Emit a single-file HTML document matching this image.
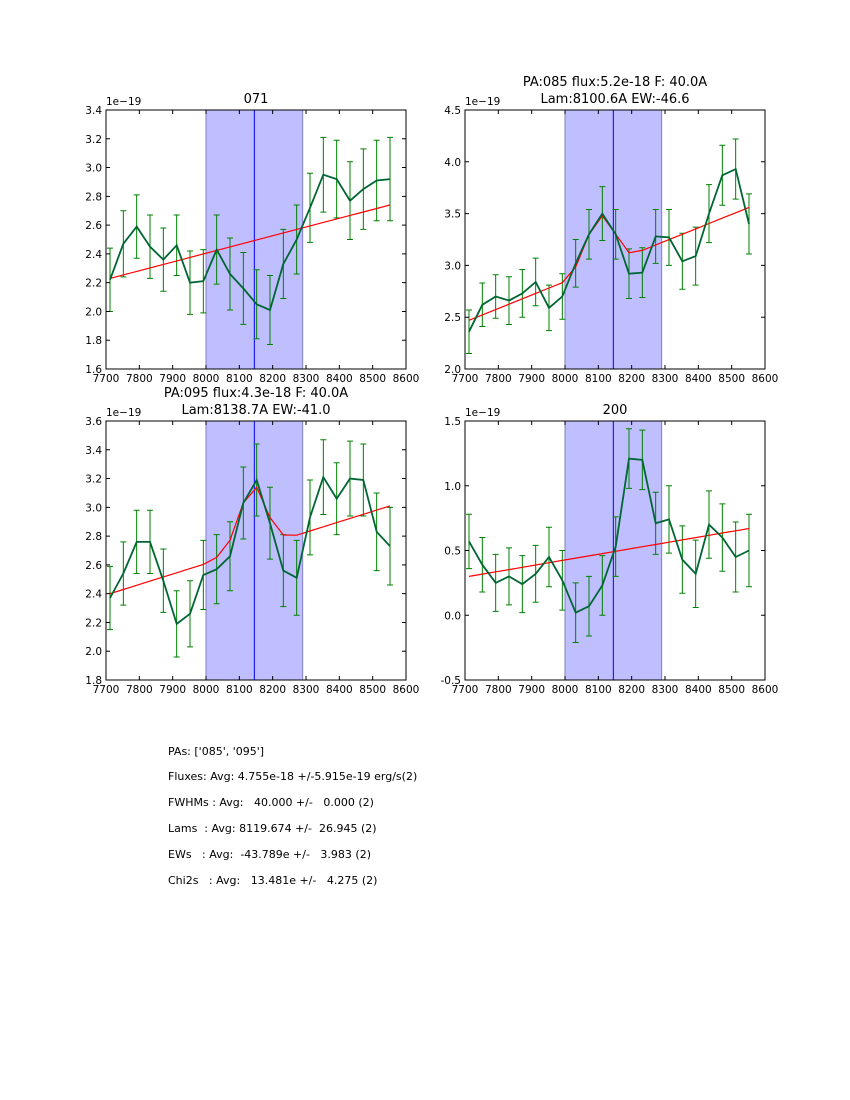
<!DOCTYPE html>
<html><head><meta charset="utf-8"><style>
body{margin:0;background:#fff;width:850px;height:1100px;overflow:hidden}
svg{position:absolute;left:0;top:0}
text{font-family:"DejaVu Sans","Liberation Sans",sans-serif;fill:#000}
.t{position:absolute;left:168px;font:11px "DejaVu Sans","Liberation Sans",sans-serif;white-space:pre}
</style></head><body>
<svg id="s" width="850" height="1100" xmlns="http://www.w3.org/2000/svg"></svg>
<div class="t" style="top:745px">PAs: ['085', '095']</div>
<div class="t" style="top:770px">Fluxes: Avg: 4.755e-18 +/-5.915e-19 erg/s(2)</div>
<div class="t" style="top:796px">FWHMs : Avg:   40.000 +/-   0.000 (2)</div>
<div class="t" style="top:822px">Lams  : Avg: 8119.674 +/-  26.945 (2)</div>
<div class="t" style="top:848px">EWs   : Avg:  -43.789e +/-   3.983 (2)</div>
<div class="t" style="top:874px">Chi2s   : Avg:   13.481e +/-   4.275 (2)</div>
<script>
var s=document.getElementById('s'),h='';
function lin(a,b){var r=[];for(var i=0;i<22;i++)r.push(a+(b-a)*i/21);return r;}
var P=[
{L:106,T:110,y0:1.6,y1:3.4,yt:[1.6,1.8,2.0,2.2,2.4,2.6,2.8,3.0,3.2,3.4],title:['071'],
v:[2.22,2.47,2.59,2.45,2.36,2.46,2.20,2.21,2.43,2.26,2.16,2.05,2.01,2.33,2.50,2.72,2.95,2.92,2.77,2.85,2.91,2.92],
e:[.22,.23,.22,.22,.22,.21,.22,.22,.24,.25,.25,.24,.24,.24,.24,.24,.26,.27,.27,.28,.28,.29],
r:lin(2.23,2.74),bump:{}},
{L:465,T:110,y0:2.0,y1:4.5,yt:[2.0,2.5,3.0,3.5,4.0,4.5],title:['PA:085 flux:5.2e-18 F: 40.0A','Lam:8100.6A EW:-46.6'],
v:[2.36,2.62,2.70,2.66,2.73,2.84,2.59,2.70,3.02,3.30,3.50,3.30,2.92,2.93,3.28,3.27,3.04,3.09,3.50,3.87,3.93,3.40],
e:[.21,.21,.21,.23,.23,.23,.22,.22,.23,.24,.26,.24,.24,.24,.26,.27,.27,.28,.28,.29,.29,.29],
r:lin(2.47,3.56),bump:{8:.1,9:.36,10:.49,11:.26,12:.03}},
{L:106,T:421,y0:1.8,y1:3.6,yt:[1.8,2.0,2.2,2.4,2.6,2.8,3.0,3.2,3.4,3.6],title:['PA:095 flux:4.3e-18 F: 40.0A','Lam:8138.7A EW:-41.0'],
v:[2.37,2.54,2.76,2.76,2.49,2.19,2.26,2.53,2.57,2.66,3.03,3.19,2.89,2.56,2.51,2.93,3.21,3.06,3.20,3.19,2.83,2.73],
e:[.22,.22,.22,.22,.22,.23,.23,.24,.24,.24,.25,.25,.25,.25,.26,.26,.26,.25,.26,.25,.27,.27],
r:lin(2.40,3.01),bump:{8:.02,9:.11,10:.34,11:.42,12:.18,13:.03}},
{L:465,T:421,y0:-0.5,y1:1.5,yt:[-0.5,0,0.5,1.0,1.5],title:['200'],
v:[0.57,0.39,0.25,0.30,0.24,0.32,0.45,0.27,0.02,0.07,0.23,0.53,1.21,1.20,0.71,0.74,0.43,0.32,0.70,0.60,0.45,0.50],
e:[.21,.21,.22,.22,.22,.22,.23,.23,.23,.23,.23,.23,.23,.23,.24,.26,.26,.26,.26,.26,.27,.28],
r:lin(0.30,0.67),bump:{}}];
P.forEach(function(p){
 var W=300,H=259,L=p.L,T=p.T;
 function X(w){return L+(w-7700)/900*W;}
 function Y(v){return T+H-(v-p.y0)/(p.y1-p.y0)*H;}
 h+='<rect x="'+X(8000)+'" y="'+T+'" width="'+(X(8290)-X(8000))+'" height="'+H+'" fill="#bfbfff" stroke="#7f7fbf" stroke-width="1"/>';
 h+='<line x1="'+X(8145)+'" y1="'+T+'" x2="'+X(8145)+'" y2="'+(T+H)+'" stroke="#0000ff" stroke-width="1"/>';
 var xs=[];for(var i=0;i<22;i++)xs.push(7712+40*i);
 for(i=0;i<22;i++){var x=X(xs[i]),a=Y(p.v[i]+p.e[i]),b=Y(p.v[i]-p.e[i]);
  h+='<path d="M'+x+' '+a+'V'+b+'M'+(x-3)+' '+a+'h6M'+(x-3)+' '+b+'h6" stroke="#008000" stroke-width="1" fill="none"/>';}
 var pr='',pg='';
 for(i=0;i<22;i++){var rv=p.r[i]+(p.bump[i]||0);pr+=(i?'L':'M')+X(xs[i]).toFixed(1)+' '+Y(rv).toFixed(1);
  pg+=(i?'L':'M')+X(xs[i]).toFixed(1)+' '+Y(p.v[i]).toFixed(1);}
 h+='<path d="'+pr+'" stroke="#ff0000" stroke-width="1.2" fill="none"/>';
 h+='<path d="'+pg+'" stroke="#006633" stroke-width="1.8" fill="none"/>';
 h+='<rect x="'+L+'" y="'+T+'" width="'+W+'" height="'+H+'" fill="none" stroke="#000" stroke-width="1"/>';
 for(var w=7700;w<=8600;w+=100){var x=X(w);
  h+='<path d="M'+x+' '+T+'v4M'+x+' '+(T+H)+'v-4" stroke="#000"/>';
  h+='<text x="'+x+'" y="'+(T+H+13)+'" font-size="10.5" text-anchor="middle">'+w+'</text>';}
 p.yt.forEach(function(v){var y=Y(v);
  h+='<path d="M'+L+' '+y+'h4M'+(L+W)+' '+y+'h-4" stroke="#000"/>';
  h+='<text x="'+(L-4)+'" y="'+(y+4)+'" font-size="10.5" text-anchor="end">'+v.toFixed(1)+'</text>';});
 h+='<text x="'+L+'" y="'+(T-5)+'" font-size="10.5">1e\u221219</text>';
 if(p.title.length==1)h+='<text x="'+(L+150)+'" y="'+(T-7)+'" font-size="13" text-anchor="middle">'+p.title[0]+'</text>';
 else{h+='<text x="'+(L+150)+'" y="'+(T-24)+'" font-size="13" text-anchor="middle">'+p.title[0]+'</text>';
  h+='<text x="'+(L+150)+'" y="'+(T-7)+'" font-size="13" text-anchor="middle">'+p.title[1]+'</text>';}
});
s.innerHTML=h;
</script>
</body></html>
